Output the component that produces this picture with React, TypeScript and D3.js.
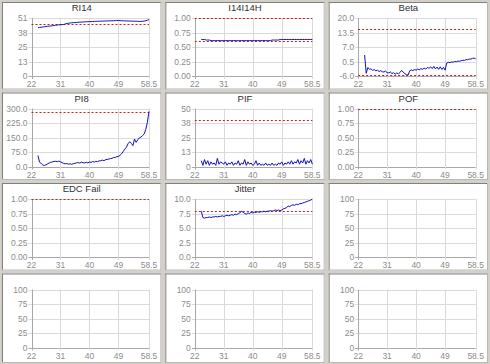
import React, { useEffect } from 'react';
import * as d3 from 'd3';

// ---------------------------------------------------------------------------
// Data
// ---------------------------------------------------------------------------

const X_TICKS = [22, 31, 40, 49, 58.5];
const X_LABELS = ['22', '31', '40', '49', '58.5'];

// sample positions shared by every trace
const T = [
  24, 24.5, 25, 25.5, 26, 26.5, 27, 27.5, 28, 28.5, 29, 29.5, 30, 30.5, 31, 31.5, 32, 32.5, 33, 33.5,
  34, 34.5, 35, 35.5, 36, 36.5, 37, 37.5, 38, 38.5, 39, 39.5, 40, 40.5, 41, 41.5, 42, 42.5, 43, 43.5,
  44, 44.5, 45, 45.5, 46, 46.5, 47, 47.5, 48, 48.5, 49, 49.5, 50, 50.5, 51, 51.5, 52, 52.5, 53, 53.5,
  54, 54.5, 55, 55.5, 56, 56.5, 57, 57.5, 58, 58.5,
];

const RI14 = [
  42.5, 42.7, 42.9, 43.1, 43.3, 43.5, 43.7, 43.9, 44.0, 44.2, 44.4, 44.6, 44.8, 45.0, 45.1, 45.2, 45.3, 45.8, 46.2, 46.4,
  46.6, 46.8, 46.9, 47.0, 47.1, 47.2, 47.3, 47.4, 47.5, 47.6, 47.7, 47.8, 47.8, 47.9, 48.0, 48.0, 48.1, 48.1, 48.2, 48.2,
  48.3, 48.3, 48.4, 48.4, 48.5, 48.5, 48.6, 48.6, 48.7, 48.8, 48.8, 48.7, 48.6, 48.5, 48.5, 48.4, 48.4, 48.3, 48.3, 48.2,
  48.2, 48.1, 48.1, 48.0, 48.0, 48.1, 48.3, 48.6, 49.0, 49.6,
];

const I14I14H = [
  0.63, 0.63, 0.63, 0.62, 0.62, 0.62, 0.61, 0.61, 0.61, 0.61, 0.61, 0.61, 0.61, 0.61, 0.61, 0.61, 0.61, 0.61, 0.61, 0.61,
  0.61, 0.61, 0.61, 0.61, 0.61, 0.61, 0.61, 0.61, 0.61, 0.61, 0.61, 0.61, 0.61, 0.61, 0.61, 0.61, 0.61, 0.61, 0.61, 0.61,
  0.61, 0.61, 0.61, 0.61, 0.62, 0.62, 0.62, 0.62, 0.62, 0.63, 0.63, 0.63, 0.63, 0.63, 0.63, 0.63, 0.63, 0.63, 0.63, 0.63,
  0.63, 0.63, 0.63, 0.63, 0.63, 0.63, 0.63, 0.63, 0.63, 0.63,
];

const BETA = [
  3.4, -4.8, -2.2, -2.9, -2.8, -3.5, -3.1, -3.7, -3.4, -4.0, -3.6, -4.1, -4.2, -3.8, -4.5, -4.6, -4.2, -4.9, -4.5, -5.2,
  -4.6, -5.1, -4.4, -3.5, -4.3, -4.9, -5.4, -5.6, -3.7, -3.3, -3.6, -3.1, -3.4, -2.9, -3.2, -2.7, -3.0, -2.5, -2.9, -2.1,
  -2.6, -1.9, -2.7, -1.7, -2.8, -2.0, -3.0, -1.9, -3.1, -2.1, -3.4, -0.2, 0.1, 0.0, 0.3, 0.2, 0.5, 0.4, 0.7, 0.6,
  0.9, 1.0, 1.0, 1.3, 1.3, 1.6, 1.6, 1.9, 2.0, 1.7,
];

const PI8 = [
  57, 22, 16, 8, 5, 9, 14, 18, 22, 24, 26, 27, 25, 28, 24, 20, 16, 14, 15, 12,
  14, 11, 15, 16, 19, 20, 18, 22, 20, 18, 22, 19, 23, 21, 26, 23, 27, 25, 29, 30,
  33, 30, 35, 37, 38, 41, 42, 46, 47, 51, 52, 58, 66, 78, 90, 100, 118, 128, 120, 108,
  142, 125, 138, 148, 152, 160, 168, 192, 228, 285,
];

const PIF = [
  5, 1, 6, 2, 5, 1, 4, 2, 3, 1, 7, 2, 4, 3, 2, 4, 1, 3, 2, 4,
  1, 3, 2, 5, 1, 3, 2, 6, 1, 4, 2, 3, 1, 2, 5, 1, 3, 1, 2, 1,
  3, 1, 2, 1, 3, 1, 2, 1, 3, 2, 4, 1, 3, 2, 4, 2, 5, 2, 4, 3,
  6, 2, 5, 3, 7, 2, 5, 3, 6, 2,
];

const JITTER = [
  7.9, 6.8, 6.7, 6.8, 6.8, 6.9, 6.8, 6.9, 6.9, 7.0, 6.9, 7.0, 7.0, 7.1, 7.0, 7.1, 7.2, 7.1, 7.2, 7.3,
  7.2, 7.4, 7.3, 7.5, 7.6, 7.9, 7.7, 7.5, 7.4, 7.6, 7.5, 7.7, 7.6, 7.7, 7.7, 7.8, 7.7, 7.8, 7.8, 7.9,
  7.8, 7.9, 7.9, 8.0, 7.9, 8.0, 8.1, 8.0, 8.1, 8.0, 8.1, 8.3, 8.4, 8.5, 8.8, 8.7, 8.9, 9.0, 8.9, 9.1,
  9.0, 9.2, 9.2, 9.3, 9.4, 9.5, 9.6, 9.7, 9.8, 10.0,
];

const TITLES = ['RI14', 'I14I14H', 'Beta', 'PI8', 'PIF', 'POF', 'EDC Fail', 'Jitter', '', '', '', ''];
const Y_DOMAINS: [number, number][] = [
  [0, 51], [0, 1], [-6, 20], [0, 300], [0, 50], [0, 1], [0, 1], [0, 10], [0, 100], [0, 100], [0, 100], [0, 100],
];
const Y_LABELS = [
  ['0', '13', '25', '38', '51'],
  ['0.00', '0.25', '0.50', '0.75', '1.00'],
  ['-6.0', '0.5', '7.0', '13.5', '20.0'],
  ['0.0', '75.0', '150.0', '225.0', '300.0'],
  ['0', '13', '25', '38', '50'],
  ['0.00', '0.25', '0.50', '0.75', '1.00'],
  ['0.00', '0.25', '0.50', '0.75', '1.00'],
  ['0.0', '2.5', '5.0', '7.5', '10.0'],
  ['0', '25', '50', '75', '100'],
  ['0', '25', '50', '75', '100'],
  ['0', '25', '50', '75', '100'],
  ['0', '25', '50', '75', '100'],
];
const LIMITS: number[][] = [[45.8], [1.0, 0.6], [15, -5.5], [280], [40.5], [1.0], [1.0], [8.0], [], [], [], []];
const SERIES: (number[] | null)[] = [RI14, I14I14H, BETA, PI8, PIF, null, null, JITTER, null, null, null, null];

// ---------------------------------------------------------------------------
// Layout
// ---------------------------------------------------------------------------

const W = 490;
const H = 364;
const CELL_W = W / 3;
const CELL_H = 90.5;
const PLOT = { left: 31.5, right: 149, top: 18, bottom: 76 };
const FONT = '"Liberation Sans", Arial, sans-serif';

const C = {
  bg: '#d4d0c8',
  grid: '#dadada',
  axis: '#a8a8a8',
  label: '#8c8c8c',
  title: '#303030',
  line: '#1010b8',
  limit: '#c02020',
};

const crisp = (v: number) => Math.round(v) + 0.5;

function Panel({ idx }: { idx: number }) {
  const col = idx % 3;
  const row = Math.floor(idx / 3);
  const cx = col * CELL_W;
  const cy = row * CELL_H;
  const ch = row === 3 ? H - cy : CELL_H;

  const [y0, y1] = Y_DOMAINS[idx];
  const x = d3.scaleLinear().domain([22, 58.5]).range([cx + PLOT.left, cx + PLOT.right]);
  const y = d3.scaleLinear().domain([y0, y1]).range([cy + PLOT.bottom, cy + PLOT.top]);
  const yTicks = Y_LABELS[idx].map((_, i) => y0 + (i * (y1 - y0)) / 4);

  const data = SERIES[idx];
  const line = d3
    .line<number>()
    .x((_, i) => x(T[i]))
    .y((d) => y(d));

  const px = cx + 2;
  const py = cy + 2;
  const pw = CELL_W - 4;
  const ph = ch - 3;

  return (
    <g>
      <rect x={px} y={py} width={pw} height={ph} fill="#fff" />
      <line x1={px} y1={py + 0.5} x2={px + pw} y2={py + 0.5} stroke="#808080" />
      <line x1={px + 0.5} y1={py} x2={px + 0.5} y2={py + ph} stroke="#808080" />
      <line x1={px} y1={py + ph - 0.5} x2={px + pw} y2={py + ph - 0.5} stroke="#b8b8b8" />
      <line x1={px + pw - 0.5} y1={py} x2={px + pw - 0.5} y2={py + ph} stroke="#b8b8b8" />

      {TITLES[idx] && (
        <text x={cx + CELL_W / 2} y={cy + 11} textAnchor="middle" fontFamily={FONT} fontSize={9.5} fill={C.title}>
          {TITLES[idx]}
        </text>
      )}

      {/* grid */}
      {yTicks.map((t, i) => (
        <g key={'y' + i}>
          <line x1={x(22) - 3} x2={x(58.5)} y1={crisp(y(t))} y2={crisp(y(t))} stroke={i === 0 ? C.axis : C.grid} />
          <text x={x(22) - 4} y={y(t) + 3} textAnchor="end" fontFamily={FONT} fontSize={8.5} fill={C.label}>
            {Y_LABELS[idx][i]}
          </text>
        </g>
      ))}
      {X_TICKS.map((t, i) => (
        <g key={'x' + i}>
          <line x1={crisp(x(t))} x2={crisp(x(t))} y1={y(y1)} y2={y(y0) + 3} stroke={i === 0 ? C.axis : C.grid} />
          <text x={x(t)} y={cy + PLOT.bottom + 11} textAnchor="middle" fontFamily={FONT} fontSize={8.5} fill={C.label}>
            {X_LABELS[i]}
          </text>
        </g>
      ))}

      {/* limits */}
      {LIMITS[idx].map((v, i) => (
        <line key={'l' + i} x1={x(22)} x2={x(58.5)} y1={crisp(y(v))} y2={crisp(y(v))} stroke={C.limit} strokeDasharray="2,2" />
      ))}

      {data && <path d={line(data) || ''} fill="none" stroke={C.line} strokeWidth={1} />}
    </g>
  );
}

export default function App() {
  useEffect(() => {
    document.body.style.margin = '0';
  }, []);

  return (
    <svg width={W} height={H} style={{ display: 'block' }}>
      <rect width={W} height={H} fill={C.bg} />
      {TITLES.map((_, i) => (
        <Panel key={i} idx={i} />
      ))}
    </svg>
  );
}
